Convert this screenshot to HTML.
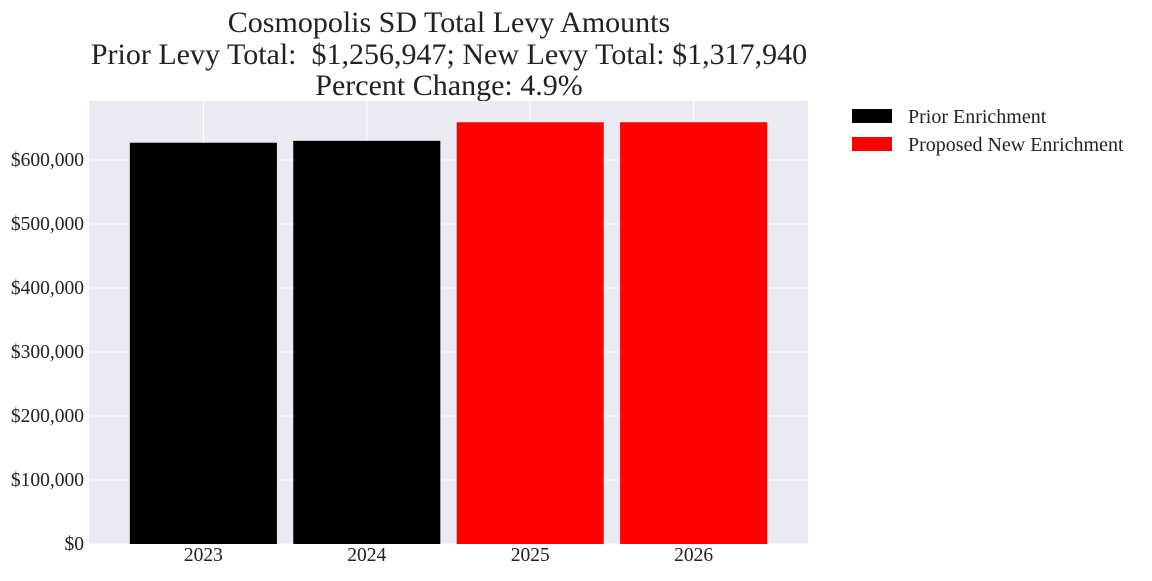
<!DOCTYPE html>
<html><head><meta charset="utf-8"><style>
body{margin:0;background:#fff;}
svg text{font-family:"Liberation Serif",serif;}
</style></head><body>
<svg width="1152" height="576" xmlns="http://www.w3.org/2000/svg">
<g font-size="30" text-anchor="middle" fill="#222">
<text x="449" y="32">Cosmopolis SD Total Levy Amounts</text>
<text x="449" y="64">Prior Levy Total:&#160; $1,256,947; New Levy Total: $1,317,940</text>
<text x="449" y="95">Percent Change: 4.9%</text>
</g>
<rect x="89" y="101" width="719" height="443" fill="#eaeaf2"/>
<g id="grid"></g><g id="bars"></g><g id="ticks"></g>
<g font-size="20" fill="#222">
<rect x="852" y="109" width="40" height="14" fill="#000"/>
<text x="908" y="123">Prior Enrichment</text>
<rect x="852" y="137" width="40" height="14" fill="#f00"/>
<text x="908" y="151">Proposed New Enrichment</text>
</g>
</svg>
<script>
const categories=["2023","2024","2025","2026"];
const values=[627000,629947,658970,658970];
const colors=["#000","#000","#f00","#f00"];
const yTicks=[0,100000,200000,300000,400000,500000,600000];
const yTickLabels=["$0","$100,000","$200,000","$300,000","$400,000","$500,000","$600,000"];
const NS="http://www.w3.org/2000/svg";
const X0=89,X1=808,Y0=544,Y1=101;
const xMin=-0.7,xMax=3.7,yMax=(Y0-Y1)/64*100000;
const xs=i=>X0+(i-xMin)/(xMax-xMin)*(X1-X0);
const ys=v=>Y0-v/yMax*(Y0-Y1);
const bw=0.9*(xs(1)-xs(0));
function mk(t,a,p){const e=document.createElementNS(NS,t);for(const k in a)e.setAttribute(k,a[k]);p.appendChild(e);return e;}
const grid=document.getElementById('grid'),bars=document.getElementById('bars'),ticks=document.getElementById('ticks');
yTicks.forEach((v,i)=>{
 const l=mk('line',{x1:X0,x2:X1,y1:ys(v),y2:ys(v),stroke:'#fff','stroke-width':1},grid);
 
 
 const t=mk('text',{x:X0-5,y:ys(v)+6,'text-anchor':'end','font-size':19.5,fill:'#222'},ticks);
 t.textContent=yTickLabels[i];
 
 
});
categories.forEach((c,i)=>{
 const l=mk('line',{x1:xs(i),x2:xs(i),y1:Y1,y2:Y0,stroke:'#fff','stroke-width':1},grid);
 
 
 const r=mk('rect',{x:xs(i)-bw/2,y:ys(values[i]),width:bw,height:Y0-ys(values[i]),fill:colors[i]},bars);
 
 
 const t=mk('text',{x:xs(i),y:Y0+17,'text-anchor':'middle','font-size':19.5,fill:'#222'},ticks);
 t.textContent=c;
 
 
});
</script>
</body></html>
